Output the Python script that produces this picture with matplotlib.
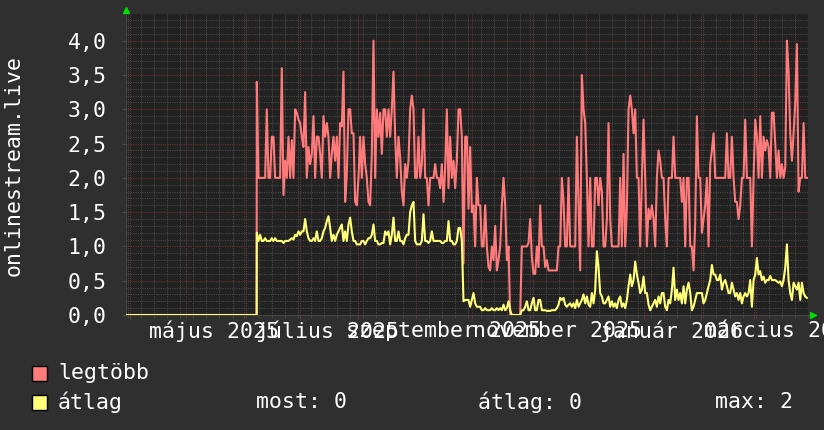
import matplotlib
matplotlib.use('Agg')
import matplotlib.pyplot as plt
import matplotlib.dates as mdates
import matplotlib.transforms as mtransforms
from matplotlib.ticker import MultipleLocator, NullFormatter, FuncFormatter
from matplotlib.patches import Rectangle
import pandas as pd

# time span of the graph and of the recorded data
AXIS_START = '2025-03-30'
AXIS_END = '2026-03-30'
DATA_START = '2025-06-08'
DATA_END = '2026-03-29 10:00'

# "legtöbb" (max) series
max_values = [
    3.4, 2.0, 2.0, 2.0, 2.0, 2.0, 3.0, 2.0, 2.0, 2.6, 2.6, 2.0, 2.0, 2.0, 2.0, 3.6,
    1.75, 2.25, 2.0, 2.6, 2.0, 2.55, 2.0, 3.0, 2.95, 2.85, 2.8, 2.6, 2.45, 3.25, 2.0,
    2.45, 2.2, 2.35, 2.9, 2.0, 2.6, 2.6, 2.35, 2.0, 2.9, 2.6, 2.8, 2.6, 2.0, 2.35,
    2.6, 2.25, 2.6, 2.0, 2.8, 2.75, 3.55, 1.65, 2.05, 3.0, 3.0, 2.65, 2.65, 1.65, 1.6,
    2.0, 2.6, 2.0, 2.6, 2.2, 2.0, 1.65, 1.6, 2.35, 4.0, 2.0, 3.0, 2.6, 2.95, 2.35,
    3.0, 3.0, 2.6, 3.0, 2.6, 3.0, 3.55,
    2.6, 2.0, 2.6, 2.3, 1.8, 1.6, 2.2, 2.0, 2.25, 3.0, 3.2, 3.0, 2.0, 2.0, 2.6, 2.0,
    2.2, 3.0, 2.0, 2.0, 1.6, 2.0, 2.0, 2.0, 2.2, 2.0, 2.0, 1.85, 2.2, 1.65, 2.15, 3.0,
    1.85, 2.6, 2.0, 2.25, 1.85, 2.25, 3.0, 3.0, 2.6, 0.75, 2.6, 2.6, 1.55, 2.45, 1.5,
    1.6, 1.0, 2.0, 1.6, 1.6, 1.0, 1.0, 1.6, 1.0, 0.7, 0.65, 1.0, 0.8, 1.3, 0.65, 0.8,
    1.0, 1.6, 2.0, 1.6, 0.8, 1.0, 0, 0, 0, 0, 0, 0, 0, 1.0, 1.0, 1.0, 1.0, 1.05, 1.4,
    0.85, 0.6,
    0.6, 1.0, 0.7, 1.6, 1.0, 1.0, 0.7, 0.8, 0.65, 0.65, 0.65, 0.65, 0.65, 0.65, 1.0,
    1.0, 2.0, 1.65, 1.0, 1.0, 2.0, 1.0, 1.0, 1.0, 1.0, 2.6, 1.6, 0.65, 3.5, 3.0, 2.8,
    2.0, 1.0, 2.0, 1.0, 1.0, 2.0, 2.0, 1.6, 2.0, 1.8, 1.0, 1.0, 1.4, 2.8, 1.4, 1.0,
    1.0, 1.0, 1.0, 1.0, 2.0, 1.0, 2.35, 1.0, 1.55, 3.0, 3.2, 3.0, 2.65, 3.0, 2.0, 2.0,
    1.0, 2.0, 2.85, 2.0, 1.0, 1.55, 1.4, 1.6, 1.4, 1.0, 2.0, 2.4, 2.25, 2.0, 2.0, 1.4,
    1.0, 2.0, 2.0, 2.0, 2.6,
    2.0, 2.0, 2.0, 2.0, 1.65, 2.0, 1.0, 2.0, 2.0, 1.0, 1.0, 0.65, 1.35, 2.9, 2.0, 2.0,
    1.2, 1.4, 1.6, 2.0, 1.0, 2.2, 2.4, 2.65, 2.0, 2.0, 2.0, 2.0, 2.0, 2.0, 2.0, 2.65,
    2.0, 2.0, 2.6, 2.0, 1.65, 1.65, 1.4, 1.6, 2.0, 2.0, 2.85, 2.0, 2.0, 2.0, 1.0, 2.0,
    2.85, 2.6, 2.0, 2.9, 2.0, 2.6, 2.4, 2.55, 2.45, 2.0, 2.95, 2.95, 2.5, 2.0, 2.4,
    2.0, 2.2, 2.0, 2.15, 4.0, 3.55, 2.65, 2.25, 2.65, 3.1, 3.95, 1.8, 2.0, 2.0, 2.8,
    2.0, 2.0,
]

# "átlag" (average) series
avg_values = [
    1.2, 1.08, 1.17, 1.08, 1.08, 1.12, 1.08, 1.08, 1.08, 1.12, 1.08, 1.12, 1.08, 1.08,
    1.08, 1.08, 1.05, 1.08, 1.08, 1.08, 1.1, 1.12, 1.1, 1.17, 1.15, 1.22, 1.17, 1.22,
    1.22, 1.4, 1.22, 1.12, 1.08, 1.08, 1.12, 1.08, 1.22, 1.08, 1.08, 1.12, 1.22, 1.27,
    1.37, 1.44, 1.27, 1.08, 1.17, 1.08, 1.17, 1.22, 1.27, 1.32, 1.08, 1.22, 1.08, 1.32,
    1.42, 1.22, 1.08, 1.08, 1.03, 1.03, 1.03, 1.08, 1.08, 1.03, 1.08, 1.12, 1.12, 1.17,
    1.32, 1.08, 1.08, 1.03, 1.03, 1.05, 1.05, 1.22, 1.17, 1.22, 1.03, 1.17, 1.42,
    1.08, 1.08, 1.22, 1.08, 1.08, 1.03, 1.12, 1.17, 1.17, 1.5, 1.6, 1.65, 1.08, 1.03,
    1.03, 1.03, 1.08, 1.47, 1.08, 1.08, 1.05, 1.08, 1.22, 1.08, 1.08, 1.08, 1.08, 1.08,
    1.05, 1.05, 1.08, 1.08, 1.37, 1.08, 1.08, 1.03, 1.03, 1.08, 1.27, 1.27, 1.08, 0.2,
    0.22, 0.22, 0.22, 0.12, 0.22, 0.32, 0.17, 0.12, 0.12, 0.12, 0.07, 0.07, 0.1, 0.07,
    0.07, 0.07, 0.1, 0.07, 0.07, 0.1, 0.07, 0.1, 0.07, 0.15, 0.07, 0.1, 0.2, 0.07, 0,
    0, 0, 0, 0, 0, 0.07, 0.07, 0.12, 0.2, 0.07, 0.07, 0.17, 0.25,
    0.07, 0.07, 0.22, 0.22, 0.07, 0.07, 0.07, 0.06, 0.06, 0.06, 0.07, 0.07, 0.07, 0.1,
    0.15, 0.25, 0.22, 0.25, 0.15, 0.12, 0.15, 0.17, 0.12, 0.17, 0.1, 0.22, 0.12, 0.17,
    0.22, 0.3, 0.17, 0.27, 0.15, 0.12, 0.32, 0.17, 0.37, 0.93, 0.69, 0.32, 0.27, 0.17,
    0.17, 0.22, 0.27, 0.12, 0.2, 0.12, 0.17, 0.1, 0.22, 0.27, 0.12, 0.17, 0.1, 0.22,
    0.42, 0.59, 0.42, 0.51, 0.78, 0.59, 0.47, 0.32, 0.37, 0.56, 0.32, 0.32, 0.15, 0.07,
    0.12, 0.17, 0.22, 0.12, 0.27, 0.17, 0.32, 0.32, 0.12, 0.07, 0.22, 0.17, 0.37, 0.69,
    0.22, 0.37, 0.22, 0.32, 0.17, 0.42, 0.17, 0.37, 0.47, 0.32, 0.07, 0.12, 0.22, 0.32,
    0.32, 0.32, 0.32, 0.17, 0.22, 0.32, 0.42, 0.51, 0.73, 0.59, 0.59, 0.51, 0.51, 0.59,
    0.37, 0.47, 0.51, 0.42, 0.32, 0.32, 0.47, 0.37, 0.27, 0.32, 0.22, 0.32, 0.17, 0.27,
    0.32, 0.27, 0.32, 0.51, 0.12, 0.51, 0.59, 0.83, 0.59, 0.64, 0.51, 0.56, 0.47, 0.51,
    0.51, 0.57, 0.51, 0.51, 0.51, 0.49, 0.47, 0.49, 0.42, 0.51, 0.69, 1.03, 0.51, 0.32,
    0.22, 0.47, 0.42, 0.37, 0.47, 0.22, 0.47, 0.32, 0.27, 0.25,
]

month_label_dates = ['2025-05-16', '2025-07-16', '2025-09-16',
                     '2025-11-16', '2026-01-16', '2026-03-16']
month_labels = ['május 2025', 'július 2025', 'szeptember 2025',
                'november 2025', 'január 2026', 'március 2026']

Y_LABEL = 'onlinestream.live'
series_names = ['legtöbb', 'átlag']
stat_texts = ['most: 0', 'átlag: 0', 'max: 2']

# styling
BG_OUTER = '#2f2f2f'
BG_PLOT = '#222222'
COLOR_MAX = '#ff7b7b'
COLOR_AVG = '#ffff78'
COLOR_TEXT = '#ffffff'
COLOR_MINOR = '#4a4a4a'
COLOR_MAJOR = '#6e3232'
COLOR_ARROW = '#00dd00'
FONT = 'DejaVu Sans Mono'
FS = 15.5

W, H = 824, 430
fig = plt.figure(figsize=(W / 100, H / 100), dpi=100, facecolor=BG_OUTER)
ax = fig.add_axes([126 / W, 1 - 315 / H, (808 - 126) / W, (315 - 14) / H])
ax.set_facecolor(BG_PLOT)

axis_start = pd.Timestamp(AXIS_START)
data_start = pd.Timestamp(DATA_START)
times_max = pd.date_range(DATA_START, DATA_END, periods=len(max_values))
times_avg = pd.date_range(DATA_START, DATA_END, periods=len(avg_values))
lead = [axis_start, data_start - pd.Timedelta(hours=2)]

ax.plot(lead + list(times_max), [0, 0] + max_values, color=COLOR_MAX, lw=1.5, zorder=3)
ax.plot(lead + list(times_avg), [0, 0] + avg_values, color=COLOR_AVG, lw=1.5, zorder=4)

ax.set_xlim(pd.Timestamp(AXIS_START), pd.Timestamp(AXIS_END))
ax.set_ylim(0, 4.39)

# grid: dotted grey minor, dotted red major
ax.yaxis.set_major_locator(MultipleLocator(0.5))
ax.yaxis.set_minor_locator(MultipleLocator(0.1))
ax.xaxis.set_major_locator(mdates.MonthLocator())
ax.xaxis.set_minor_locator(mdates.WeekdayLocator(byweekday=mdates.MO))
ax.xaxis.set_major_formatter(NullFormatter())
ax.yaxis.set_major_formatter(FuncFormatter(lambda v, p: f'{v:.1f}'.replace('.', ',')))

dots = (0, (1, 1.2))
ax.grid(which='minor', color=COLOR_MINOR, linestyle=dots, linewidth=0.75)
ax.grid(which='major', color=COLOR_MAJOR, linestyle=dots, linewidth=0.75)
ax.set_axisbelow(True)

ax.tick_params(axis='x', which='major', length=3, color=COLOR_MAJOR)
ax.tick_params(axis='x', which='minor', length=2, color=COLOR_MINOR)
ax.tick_params(axis='y', which='major', length=3, color=COLOR_MINOR,
               labelcolor=COLOR_TEXT, labelsize=FS, pad=11)
ax.tick_params(axis='y', which='minor', length=0)
for lbl in ax.get_yticklabels():
    lbl.set_fontfamily(FONT)

for side in ['top', 'right']:
    ax.spines[side].set_visible(False)
for side in ['left', 'bottom']:
    ax.spines[side].set_color('#444444')
    ax.spines[side].set_linewidth(0.8)

# month labels, centred in the middle of the month
trans = mtransforms.blended_transform_factory(ax.transData, fig.transFigure)
for d, txt in zip(month_label_dates, month_labels):
    ax.text(pd.Timestamp(d), 1 - 331 / H, txt, transform=trans, ha='center', va='center',
            color=COLOR_TEXT, fontsize=FS, family=FONT, clip_on=False)

# small green arrows at the axis ends
ax.plot([0], [1.012], marker='^', color=COLOR_ARROW, markersize=5,
        transform=ax.transAxes, clip_on=False)
ax.plot([1.007], [0], marker='>', color=COLOR_ARROW, markersize=5,
        transform=ax.transAxes, clip_on=False)

fig.text(14 / W, 1 - 165 / H, Y_LABEL, rotation=90, ha='center', va='center',
         color=COLOR_TEXT, fontsize=FS, family=FONT)

# legend
rows_y = [373, 402]
for name, color, y in zip(series_names, [COLOR_MAX, COLOR_AVG], rows_y):
    fig.patches.append(Rectangle((32 / W, 1 - (y + 7.5) / H), 15 / W, 15 / H,
                                 transform=fig.transFigure, facecolor=color,
                                 edgecolor='black', linewidth=1))
    fig.text(58 / W, 1 - y / H, name, ha='left', va='center',
             color=COLOR_TEXT, fontsize=FS, family=FONT)

for x, txt in zip([256, 478, 715], stat_texts):
    fig.text(x / W, 1 - rows_y[1] / H, txt, ha='left', va='center',
             color=COLOR_TEXT, fontsize=FS, family=FONT)

fig.savefig('out.png', dpi=100, facecolor=fig.get_facecolor())
